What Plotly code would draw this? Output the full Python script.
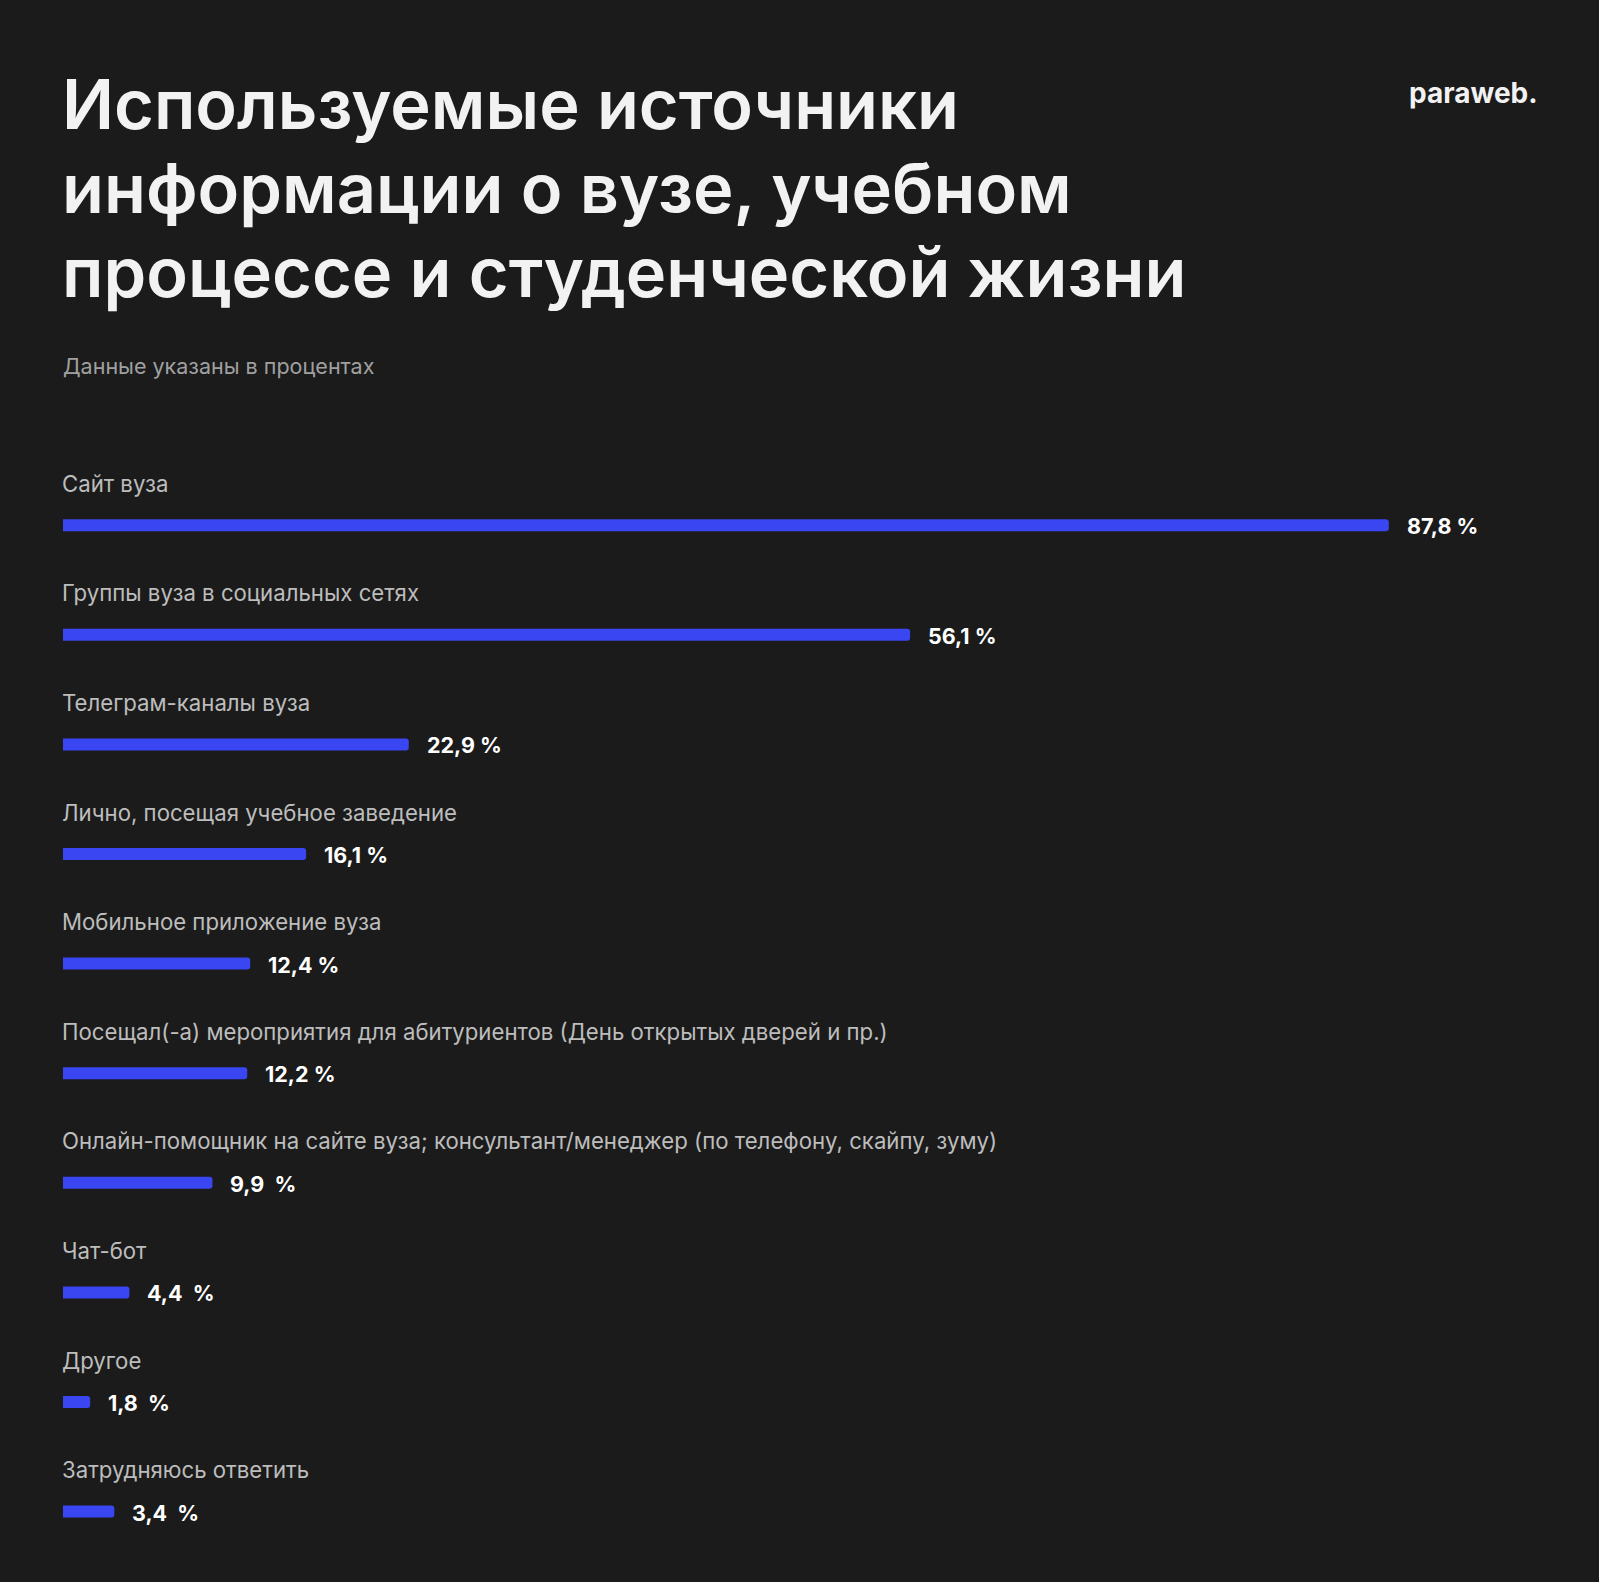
import plotly.graph_objects as go

# data
categories = [
    "Сайт вуза",
    "Группы вуза в социальных сетях",
    "Телеграм-каналы вуза",
    "Лично, посещая учебное заведение",
    "Мобильное приложение вуза",
    "Посещал(-а) мероприятия для абитуриентов (День открытых дверей и пр.)",
    "Онлайн-помощник на сайте вуза; консультант/менеджер (по телефону, скайпу, зуму)",
    "Чат-бот",
    "Другое",
    "Затрудняюсь ответить",
]
values = [87.8, 56.1, 22.9, 16.1, 12.4, 12.2, 9.9, 4.4, 1.8, 3.4]
value_labels = ["87,8 %", "56,1 %", "22,9 %", "16,1 %", "12,4 %", "12,2 %",
                "9,9  %", "4,4  %", "1,8  %", "3,4  %"]

title_lines = [
    "Используемые источники",
    "информации о вузе, учебном",
    "процессе и студенческой жизни",
]
subtitle = "Данные указаны в процентах"
logo = "paraweb."

W, H = 1599, 1582
BG = "#1b1b1b"
BLUE = "#3a46f2"
FONT = "Inter"

rows = list(range(len(categories)))

# pixel layout of plot area
x0_px = 63
px_per_unit = 15.1
top_px = 470.4
row_h = 109.6
bottom_px = top_px + row_h * len(categories)


def py(p):
    return 1 - p / H


def px(p):
    return p / W


fig = go.Figure()
fig.add_trace(go.Bar(
    x=values, y=rows, orientation="h",
    width=12 / row_h,
    marker=dict(color=BLUE, cornerradius=3, line_width=0),
    hoverinfo="skip",
))

annotations = []
for i, (cat, v, lab) in enumerate(zip(categories, values, value_labels)):
    annotations.append(dict(
        x=0, y=i, xref="x", yref="y", text=cat, showarrow=False,
        xanchor="left", yanchor="middle", xshift=-3, yshift=42,
        font=dict(family=FONT, size=22.2, color="#bdbdbd"),
    ))
    annotations.append(dict(
        x=v, y=i, xref="x", yref="y", text=lab, showarrow=False,
        xanchor="left", yanchor="middle", xshift=16, yshift=-1,
        font=dict(family=FONT, size=21.5, color="#ffffff", weight="bold"),
    ))

title_centers = [105, 189, 273]
for line, c in zip(title_lines, title_centers):
    annotations.append(dict(
        x=px(60), y=py(c), xref="paper", yref="paper", text=line,
        showarrow=False, xanchor="left", yanchor="middle",
        font=dict(family=FONT, size=68.5, color="#f2f2f2", weight=600),
    ))

annotations.append(dict(
    x=px(61), y=py(366), xref="paper", yref="paper", text=subtitle,
    showarrow=False, xanchor="left", yanchor="middle",
    font=dict(family=FONT, size=21.5, color="#a0a0a0"),
))
annotations.append(dict(
    x=px(1540), y=py(93), xref="paper", yref="paper", text=logo,
    showarrow=False, xanchor="right", yanchor="middle",
    font=dict(family=FONT, size=28, color="#f2f2f2", weight="bold"),
))

plot_w = W - x0_px
fig.update_layout(
    width=W, height=H,
    margin=dict(l=0, r=0, t=0, b=0),
    paper_bgcolor=BG, plot_bgcolor=BG,
    showlegend=False,
    xaxis=dict(domain=[px(x0_px), 1], range=[0, plot_w / px_per_unit],
               visible=False, fixedrange=True),
    yaxis=dict(domain=[py(bottom_px), py(top_px)], range=[len(categories) - 0.5, -0.5],
               visible=False, fixedrange=True),
    annotations=annotations,
)

fig.write_html("out.html", config={"displayModeBar": False},
               post_script="document.body.style.margin='0';"
                           "document.body.style.background='#1b1b1b';")
